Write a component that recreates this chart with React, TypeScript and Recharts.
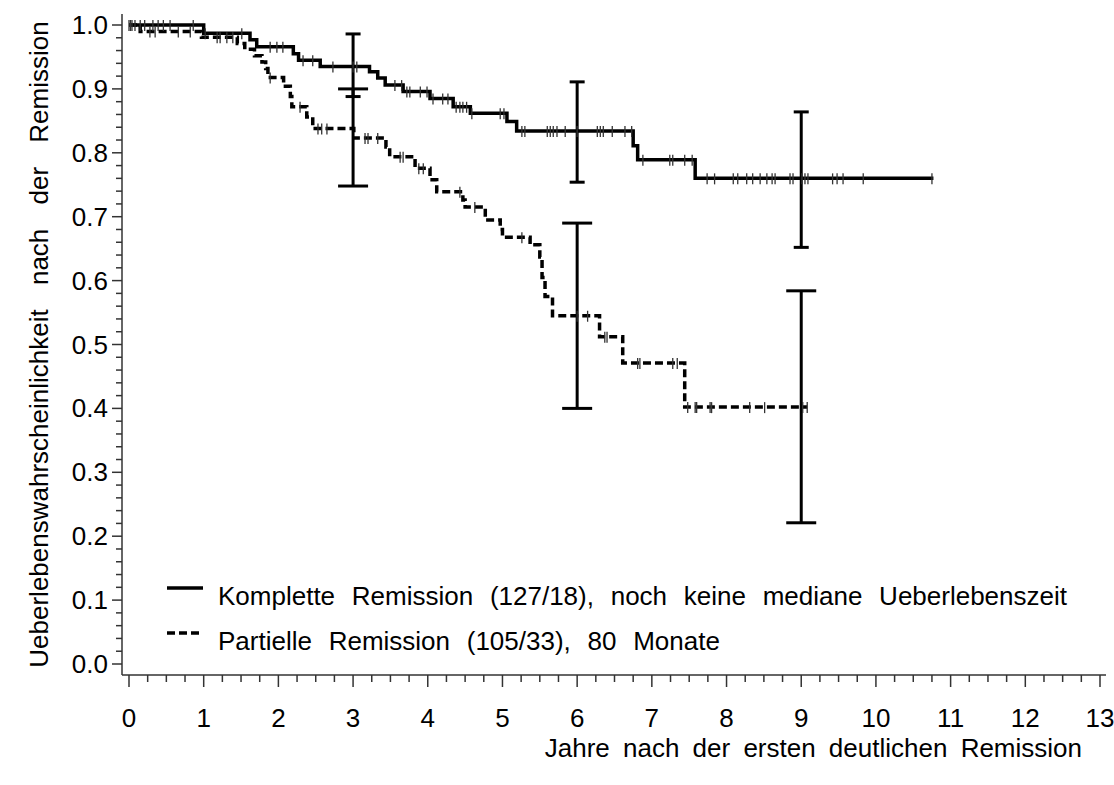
import React from 'react';
import {
  ComposedChart,
  Line,
  Scatter,
  XAxis,
  YAxis,
  ErrorBar,
  Legend,
  Label
} from 'recharts';

const FONT = '"Liberation Sans", Arial, Helvetica, sans-serif';
const FONT_SIZE = 26;

// Komplette Remission: Ereigniszeiten (Jahre) und Überleben nach jeder Stufe
const kompletteZeiten = [1.0, 1.62, 1.71, 2.2, 2.27, 2.56, 3.22, 3.33, 3.43, 3.67, 4.03, 4.34, 4.57, 5.06, 5.19, 6.75, 6.81, 7.58];
const kompletteUeberleben = [0.987, 0.977, 0.966, 0.955, 0.945, 0.935, 0.927, 0.917, 0.906, 0.896, 0.885, 0.872, 0.862, 0.849, 0.834, 0.811, 0.789, 0.76];
const kompletteEnde = 10.77;
const kompletteZensiert = [
  0.02, 0.04, 0.15, 0.21, 0.32, 0.39, 0.46, 0.55, 0.86, 1.02, 1.51, 1.89, 1.98, 2.06, 2.33,
  2.46, 2.73, 3.0, 3.05, 3.56, 3.65, 3.72, 3.76, 3.9, 3.99, 4.07, 4.2, 4.27, 4.38, 4.43,
  4.47, 4.52, 4.59, 4.97, 5.02, 5.26, 5.3, 5.6, 5.64, 5.68, 5.73, 5.84, 6.0, 6.27, 6.31,
  6.35, 6.47, 6.64, 6.73, 6.88, 7.24, 7.28, 7.44, 7.54, 7.74, 7.84, 8.09, 8.15, 8.27, 8.35,
  8.45, 8.54, 8.61, 8.65, 8.85, 8.89, 9.01, 9.05, 9.09, 9.42, 9.48, 9.56, 9.83, 10.75
];

// Partielle Remission
const partielleZeiten = [0.15, 0.97, 1.45, 1.55, 1.68, 1.78, 1.83, 1.86, 2.07, 2.16, 2.18, 2.38, 2.46, 3.01, 3.44, 3.49, 3.83, 4.03, 4.12, 4.47, 4.5, 4.77, 4.97, 5.0, 5.37, 5.5, 5.53, 5.57, 5.67, 6.3, 6.61, 7.44];
const partielleUeberleben = [0.99, 0.981, 0.971, 0.962, 0.952, 0.942, 0.932, 0.918, 0.904, 0.888, 0.872, 0.856, 0.838, 0.823, 0.809, 0.794, 0.776, 0.758, 0.739, 0.726, 0.715, 0.695, 0.68, 0.668, 0.656, 0.637, 0.605, 0.575, 0.545, 0.512, 0.471, 0.402];
const partielleEnde = 9.08;
const partielleZensiert = [
  0.0, 0.08, 0.28, 0.35, 0.66, 0.82, 1.18, 1.22, 1.31, 1.39, 1.89, 2.29, 2.53, 2.58, 2.65,
  3.16, 3.2, 3.33, 3.63, 3.67, 3.88, 3.94, 4.43, 4.63, 5.26, 6.0, 6.14, 6.37, 6.4, 6.81,
  6.84, 7.28, 7.34, 7.48, 7.58, 7.6, 7.78, 7.8, 8.31, 8.51, 9.02, 9.08
];

// Konfidenzintervalle nach 3, 6 und 9 Jahren
const ciJahre = [3, 6, 9];
const kompletteCiUnten = [0.888, 0.754, 0.652];
const kompletteCiOben = [0.986, 0.911, 0.864];
const partielleCiUnten = [0.748, 0.4, 0.221];
const partielleCiOben = [0.9, 0.69, 0.584];

const xMajorTicks = [0, 1, 2, 3, 4, 5, 6, 7, 8, 9, 10, 11, 12, 13];
const xMinorStep = 0.25;
const yMajorTicks = [0, 0.1, 0.2, 0.3, 0.4, 0.5, 0.6, 0.7, 0.8, 0.9, 1.0];
const yMinorStep = 0.02;

const legendKomplett = 'Komplette Remission (127/18), noch keine mediane Ueberlebenszeit';
const legendPartiell = 'Partielle Remission (105/33), 80 Monate';
const xTitle = 'Jahre nach der ersten deutlichen Remission';
const yTitle = 'Ueberlebenswahrscheinlichkeit nach der Remission';

const buildTicks = (max: number, step: number) => {
  const out: number[] = [];
  const n = Math.round(max / step);
  for (let i = 0; i <= n; i++) out.push(Math.round(i * step * 1000) / 1000);
  return out;
};
const xTicks = buildTicks(13, xMinorStep);
const yTicks = buildTicks(1, yMinorStep);

const survivalAt = (times: number[], surv: number[], t: number) => {
  let s = 1;
  times.forEach((e, i) => {
    if (e <= t) s = surv[i];
  });
  return s;
};

const stepData = (times: number[], surv: number[], end: number) => [
  { t: 0, s: 1 },
  ...times.map((t, i) => ({ t, s: surv[i] })),
  { t: end, s: surv[surv.length - 1] }
];

const censorData = (times: number[], surv: number[], cens: number[]) =>
  cens.map((t) => ({ t, s: survivalAt(times, surv, t) }));

const ciData = (times: number[], surv: number[], lo: number[], hi: number[]) =>
  ciJahre.map((t, i) => {
    const s = survivalAt(times, surv, t);
    return { t, s, err: [s - lo[i], hi[i] - s] };
  });

const kompletteStufen = stepData(kompletteZeiten, kompletteUeberleben, kompletteEnde);
const partielleStufen = stepData(partielleZeiten, partielleUeberleben, partielleEnde);
const kompletteMarken = censorData(kompletteZeiten, kompletteUeberleben, kompletteZensiert);
const partielleMarken = censorData(partielleZeiten, partielleUeberleben, partielleZensiert);
const kompletteCi = ciData(kompletteZeiten, kompletteUeberleben, kompletteCiUnten, kompletteCiOben);
const partielleCi = ciData(partielleZeiten, partielleUeberleben, partielleCiUnten, partielleCiOben);

const AXIS_COLOR = '#333';
const CURVE_WIDTH = 3.5;
const textStyle = { fontFamily: FONT, fontSize: FONT_SIZE, fill: '#000' };

// eslint-disable-next-line @typescript-eslint/no-explicit-any
const XTick = (props: any) => {
  const { x, y, payload } = props;
  const v = payload.value as number;
  const major = xMajorTicks.includes(v);
  return (
    <g>
      <line x1={x} y1={y} x2={x} y2={y + (major ? 12 : 7)} stroke={AXIS_COLOR} strokeWidth={1.5} />
      {major && (
        <text x={x} y={y + 52} textAnchor="middle" style={textStyle}>
          {v}
        </text>
      )}
    </g>
  );
};

// eslint-disable-next-line @typescript-eslint/no-explicit-any
const YTick = (props: any) => {
  const { x, y, payload } = props;
  const v = payload.value as number;
  const major = yMajorTicks.some((m) => Math.abs(m - v) < 1e-6);
  return (
    <g>
      <line x1={x} y1={y} x2={x - (major ? 10 : 6)} y2={y} stroke={AXIS_COLOR} strokeWidth={1.5} />
      {major && (
        <text x={x - 14} y={y + 9} textAnchor="end" style={textStyle}>
          {v.toFixed(1)}
        </text>
      )}
    </g>
  );
};

// eslint-disable-next-line @typescript-eslint/no-explicit-any
const CensorMark = (props: any) => {
  const { cx, cy } = props;
  return <line x1={cx} y1={cy - 5} x2={cx} y2={cy + 6} stroke="#333" strokeWidth={1.3} />;
};

const NoPoint = () => <g />;

const LegendBox = () => (
  <svg width={950} height={95}>
    <line x1={7} y1={23} x2={43} y2={23} stroke="#000" strokeWidth={CURVE_WIDTH} />
    <text x={58} y={40} style={{ ...textStyle, wordSpacing: '9.5px' }}>{legendKomplett}</text>
    <line x1={7} y1={68} x2={43} y2={68} stroke="#000" strokeWidth={CURVE_WIDTH} strokeDasharray="8 4" />
    <text x={58} y={85} style={{ ...textStyle, wordSpacing: '9.5px' }}>{legendPartiell}</text>
  </svg>
);

export default function App() {
  return (
    <div style={{ position: 'absolute', left: 0, top: 0, background: '#fff' }}>
      <ComposedChart width={1114} height={785} margin={{ top: 14, right: 8, left: 0, bottom: 0 }}>
        <XAxis
          dataKey="t"
          type="number"
          domain={[0, 13]}
          ticks={xTicks}
          interval={0}
          tick={<XTick />}
          tickLine={false}
          tickSize={0}
          tickMargin={0}
          height={110}
          padding={{ left: 7, right: 6 }}
          axisLine={{ stroke: AXIS_COLOR, strokeWidth: 1.5 }}
        >
          <Label
            content={(p: any) => {
              const vb = p.viewBox;
              return (
                <text x={vb.x + vb.width - 24} y={vb.y + 82} textAnchor="end" style={{ ...textStyle, wordSpacing: '6px' }}>
                  {xTitle}
                </text>
              );
            }}
          />
        </XAxis>
        <XAxis
          xAxisId="oben"
          orientation="top"
          type="number"
          domain={[0, 13]}
          tick={false}
          tickLine={false}
          height={0}
          axisLine={{ stroke: AXIS_COLOR, strokeWidth: 1.5 }}
        />
        <YAxis
          dataKey="s"
          type="number"
          domain={[0, 1]}
          ticks={yTicks}
          interval={0}
          tick={<YTick />}
          tickLine={false}
          tickSize={0}
          tickMargin={0}
          width={122}
          padding={{ top: 11, bottom: 11 }}
          axisLine={{ stroke: AXIS_COLOR, strokeWidth: 1.5 }}
        >
          <Label
            content={(p: any) => {
              const vb = p.viewBox;
              const cy = vb.y + vb.height / 2;
              return (
                <text
                  x={48}
                  y={cy}
                  transform={`rotate(-90, 48, ${cy})`}
                  textAnchor="middle"
                  style={{ ...textStyle, wordSpacing: '17px' }}
                >
                  {yTitle}
                </text>
              );
            }}
          />
        </YAxis>
        <YAxis
          yAxisId="rechts"
          orientation="right"
          type="number"
          domain={[0, 1]}
          tick={false}
          tickLine={false}
          width={0}
          axisLine={{ stroke: AXIS_COLOR, strokeWidth: 1.5 }}
        />

        <Line
          data={kompletteStufen}
          dataKey="s"
          type="stepAfter"
          stroke="#000"
          strokeWidth={CURVE_WIDTH}
          dot={false}
          activeDot={false}
          isAnimationActive={false}
        />
        <Line
          data={partielleStufen}
          dataKey="s"
          type="stepAfter"
          stroke="#000"
          strokeWidth={CURVE_WIDTH}
          strokeDasharray="8 4"
          dot={false}
          activeDot={false}
          isAnimationActive={false}
        />

        <Scatter data={kompletteMarken} dataKey="s" shape={<CensorMark />} isAnimationActive={false} />
        <Scatter data={partielleMarken} dataKey="s" shape={<CensorMark />} isAnimationActive={false} />

        <Scatter data={kompletteCi} dataKey="s" shape={<NoPoint />} isAnimationActive={false}>
          <ErrorBar dataKey="err" direction="y" width={7.5} stroke="#000" strokeWidth={3} isAnimationActive={false} />
        </Scatter>
        <Scatter data={partielleCi} dataKey="s" shape={<NoPoint />} isAnimationActive={false}>
          <ErrorBar dataKey="err" direction="y" width={15} stroke="#000" strokeWidth={3} isAnimationActive={false} />
        </Scatter>

        <Legend
          layout="vertical"
          align="center"
          verticalAlign="middle"
          width={950}
          height={95}
          wrapperStyle={{ left: 160, top: 565 }}
          content={() => <LegendBox />}
        />
      </ComposedChart>
    </div>
  );
}
